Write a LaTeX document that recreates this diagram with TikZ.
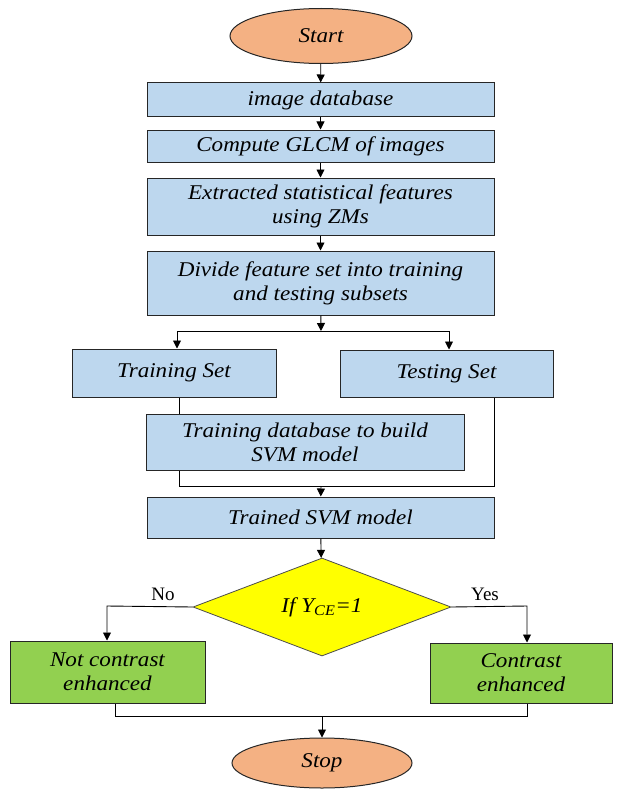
\documentclass[tikz,border=0pt]{standalone}
\usepackage{fontspec}
\setmainfont{Liberation Serif}
\newfontfamily\boxfont{Liberation Serif}[FakeStretch=1.1]
\usetikzlibrary{shapes.geometric,arrows.meta,calc}
\definecolor{boxblue}{HTML}{BDD7EE}
\definecolor{ovalfill}{HTML}{F4B183}
\definecolor{greenfill}{HTML}{92D050}
\definecolor{yel}{HTML}{FFFF00}
\tikzset{
  stepbox/.style={draw=black!85, line width=1pt, fill=boxblue, rectangle, inner sep=2pt, align=center,
     font=\boxfont\fontsize{21}{24}\selectfont\itshape},
  greenbox/.style={stepbox, fill=greenfill},
  oval/.style={draw=black!85, line width=1pt, fill=ovalfill, ellipse, inner sep=0pt,
     font=\boxfont\fontsize{21}{24}\selectfont\itshape},
  decision/.style={draw=black!70, line width=0.8pt, fill=yel, diamond, inner sep=0pt,
     font=\boxfont\fontsize{21}{24}\selectfont\itshape},
  conn/.style={line width=0.9pt, draw=black},
  arr/.style={conn, -{Triangle[length=8pt,width=8pt]}},
  lbl/.style={font=\fontsize{19}{21}\selectfont}
}
\begin{document}
\begin{tikzpicture}[x=1pt,y=-1pt]
\useasboundingbox (0,0) rectangle (621,789);
\node[oval, minimum width=182, minimum height=55] (start) at (321,36) {Start};
\node[stepbox, minimum width=347, minimum height=34] (db) at (320.5,100) {image database};
\node[stepbox, minimum width=347, minimum height=32] (glcm) at (320.5,146) {Compute GLCM of images};
\node[stepbox, minimum width=347, minimum height=57] (ext) at (320.5,206.5) {Extracted statistical features\\using ZMs};
\node[stepbox, minimum width=347, minimum height=64] (div) at (320.5,283) {Divide feature set into training\\and testing subsets};
\node[stepbox, minimum width=204, minimum height=48] (train) at (174,373) {Training Set};
\node[stepbox, minimum width=213, minimum height=47] (test) at (446.5,373.5) {Testing Set};
\node[stepbox, minimum width=318, minimum height=56] (tdb) at (305,442) {Training database to build\\SVM model};
\node[stepbox, minimum width=347, minimum height=41] (svm) at (320.5,517.5) {Trained SVM model};
\node[decision, minimum width=258, minimum height=98, aspect=2.6] (dec) at (322,607) {If Y\textsubscript{CE}=1};
\node[greenbox, minimum width=195, minimum height=62] (nce) at (107.5,672) {Not contrast\\enhanced};
\node[greenbox, minimum width=182, minimum height=60] (ce) at (521,673) {Contrast\\enhanced};
\node[oval, minimum width=180, minimum height=50] (stop) at (322,763) {Stop};

\coordinate (split) at (321,331);
\coordinate (sl) at (177,331);
\coordinate (sr) at (449,331);
\coordinate (m1) at (179,486);
\coordinate (m2) at (494,486);
\coordinate (mc) at (321,486);
\coordinate (nl) at (107,606);
\coordinate (yr) at (527,606);
\coordinate (b1) at (115,716);
\coordinate (b2) at (527,716);
\coordinate (bc) at (322,716);

\draw[arr] (start) -- (db);
\draw[arr] (db) -- (glcm);
\draw[arr] (glcm) -- (ext);
\draw[arr] (ext) -- (div);
\draw[arr] (div) -- (split);
\draw[conn] (sl) -- (sr);
\draw[arr] (sl) -- (sl |- train.north);
\draw[arr] (sr) -- (sr |- test.north);
\draw[conn] (train.south -| m1) -- (tdb.north -| m1);
\draw[conn] (tdb.south -| m1) -- (m1) -- (m2) -- (test.south -| m2);
\draw[arr] (mc) -- (svm);
\draw[arr] (svm) -- (dec);
\draw[arr] (dec.west) -- (nl) -- (nce.north -| nl);
\draw[arr] (dec.east) -- (yr) -- (ce.north -| yr);
\draw[conn] (nce.south -| b1) -- (b1) -- (b2) -- (ce.south -| b2);
\draw[arr] (bc) -- (stop);
\node[lbl] (no) at (163,594) {No};
\node[lbl] (yes) at (485,594) {Yes};
\end{tikzpicture}
\end{document}
